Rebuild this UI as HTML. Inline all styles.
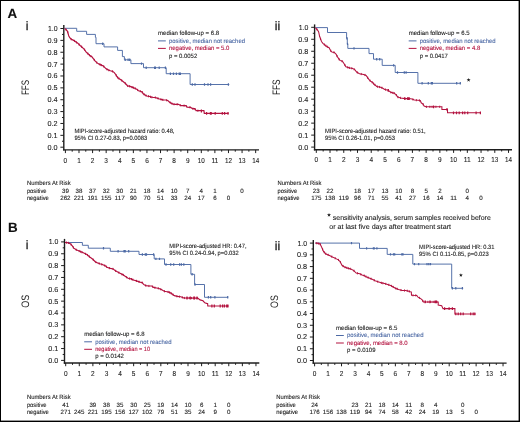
<!DOCTYPE html>
<html><head><meta charset="utf-8"><style>
html,body{margin:0;padding:0;background:#fff;}
#f{position:relative;width:520px;height:422px;overflow:hidden;background:#fff;}
svg{position:absolute;left:0;top:0;filter:blur(0.3px);}
text{font-family:"Liberation Sans",sans-serif;text-rendering:geometricPrecision;}
</style></head><body><div id="f">
<svg width="520" height="422" viewBox="0 0 520 422">
<line x1="63.8" y1="25.1" x2="63.8" y2="150.6" stroke="#1e1e1e" stroke-width="1.4"/>
<line x1="63.099999999999994" y1="149.9" x2="259.0" y2="149.9" stroke="#1e1e1e" stroke-width="1.4"/>
<text x="57.60" y="149.60" font-size="7.2" text-anchor="end" textLength="10.1" lengthAdjust="spacingAndGlyphs" fill="#222" stroke="#222" stroke-width="0.1">0.0</text>
<text x="57.60" y="137.73" font-size="7.2" text-anchor="end" textLength="10.1" lengthAdjust="spacingAndGlyphs" fill="#222" stroke="#222" stroke-width="0.1">0.1</text>
<text x="57.60" y="125.86" font-size="7.2" text-anchor="end" textLength="10.1" lengthAdjust="spacingAndGlyphs" fill="#222" stroke="#222" stroke-width="0.1">0.2</text>
<text x="57.60" y="113.99" font-size="7.2" text-anchor="end" textLength="10.1" lengthAdjust="spacingAndGlyphs" fill="#222" stroke="#222" stroke-width="0.1">0.3</text>
<text x="57.60" y="102.12" font-size="7.2" text-anchor="end" textLength="10.1" lengthAdjust="spacingAndGlyphs" fill="#222" stroke="#222" stroke-width="0.1">0.4</text>
<text x="57.60" y="90.25" font-size="7.2" text-anchor="end" textLength="10.1" lengthAdjust="spacingAndGlyphs" fill="#222" stroke="#222" stroke-width="0.1">0.5</text>
<text x="57.60" y="78.38" font-size="7.2" text-anchor="end" textLength="10.1" lengthAdjust="spacingAndGlyphs" fill="#222" stroke="#222" stroke-width="0.1">0.6</text>
<text x="57.60" y="66.51" font-size="7.2" text-anchor="end" textLength="10.1" lengthAdjust="spacingAndGlyphs" fill="#222" stroke="#222" stroke-width="0.1">0.7</text>
<text x="57.60" y="54.64" font-size="7.2" text-anchor="end" textLength="10.1" lengthAdjust="spacingAndGlyphs" fill="#222" stroke="#222" stroke-width="0.1">0.8</text>
<text x="57.60" y="42.77" font-size="7.2" text-anchor="end" textLength="10.1" lengthAdjust="spacingAndGlyphs" fill="#222" stroke="#222" stroke-width="0.1">0.9</text>
<text x="57.60" y="30.90" font-size="7.2" text-anchor="end" textLength="9.6" lengthAdjust="spacingAndGlyphs" fill="#222" stroke="#222" stroke-width="0.1">1.0</text>
<text x="65.40" y="162.50" font-size="7.2" text-anchor="middle" textLength="3.6" lengthAdjust="spacingAndGlyphs" fill="#222" stroke="#222" stroke-width="0.1">0</text>
<text x="78.99" y="162.50" font-size="7.2" text-anchor="middle" textLength="3.6" lengthAdjust="spacingAndGlyphs" fill="#222" stroke="#222" stroke-width="0.1">1</text>
<text x="92.58" y="162.50" font-size="7.2" text-anchor="middle" textLength="3.6" lengthAdjust="spacingAndGlyphs" fill="#222" stroke="#222" stroke-width="0.1">2</text>
<text x="106.17" y="162.50" font-size="7.2" text-anchor="middle" textLength="3.6" lengthAdjust="spacingAndGlyphs" fill="#222" stroke="#222" stroke-width="0.1">3</text>
<text x="119.76" y="162.50" font-size="7.2" text-anchor="middle" textLength="3.6" lengthAdjust="spacingAndGlyphs" fill="#222" stroke="#222" stroke-width="0.1">4</text>
<text x="133.35" y="162.50" font-size="7.2" text-anchor="middle" textLength="3.6" lengthAdjust="spacingAndGlyphs" fill="#222" stroke="#222" stroke-width="0.1">5</text>
<text x="146.94" y="162.50" font-size="7.2" text-anchor="middle" textLength="3.6" lengthAdjust="spacingAndGlyphs" fill="#222" stroke="#222" stroke-width="0.1">6</text>
<text x="160.53" y="162.50" font-size="7.2" text-anchor="middle" textLength="3.6" lengthAdjust="spacingAndGlyphs" fill="#222" stroke="#222" stroke-width="0.1">7</text>
<text x="174.12" y="162.50" font-size="7.2" text-anchor="middle" textLength="3.6" lengthAdjust="spacingAndGlyphs" fill="#222" stroke="#222" stroke-width="0.1">8</text>
<text x="187.71" y="162.50" font-size="7.2" text-anchor="middle" textLength="3.6" lengthAdjust="spacingAndGlyphs" fill="#222" stroke="#222" stroke-width="0.1">9</text>
<text x="201.30" y="162.50" font-size="7.2" text-anchor="middle" textLength="7.0" lengthAdjust="spacingAndGlyphs" fill="#222" stroke="#222" stroke-width="0.1">10</text>
<text x="214.89" y="162.50" font-size="7.2" text-anchor="middle" textLength="7.0" lengthAdjust="spacingAndGlyphs" fill="#222" stroke="#222" stroke-width="0.1">11</text>
<text x="228.48" y="162.50" font-size="7.2" text-anchor="middle" textLength="7.0" lengthAdjust="spacingAndGlyphs" fill="#222" stroke="#222" stroke-width="0.1">12</text>
<text x="242.07" y="162.50" font-size="7.2" text-anchor="middle" textLength="7.0" lengthAdjust="spacingAndGlyphs" fill="#222" stroke="#222" stroke-width="0.1">13</text>
<text x="255.66" y="162.50" font-size="7.2" text-anchor="middle" textLength="7.0" lengthAdjust="spacingAndGlyphs" fill="#222" stroke="#222" stroke-width="0.1">14</text>
<path d="M60.40,147.20H63.80M60.40,135.33H63.80M60.40,123.46H63.80M60.40,111.59H63.80M60.40,99.72H63.80M60.40,87.85H63.80M60.40,75.98H63.80M60.40,64.11H63.80M60.40,52.24H63.80M60.40,40.37H63.80M60.40,28.50H63.80M62.00,141.26H63.80M62.00,129.39H63.80M62.00,117.52H63.80M62.00,105.65H63.80M62.00,93.78H63.80M62.00,81.91H63.80M62.00,70.04H63.80M62.00,58.17H63.80M62.00,46.30H63.80M62.00,34.43H63.80M65.40,149.90V153.10M78.99,149.90V153.10M92.58,149.90V153.10M106.17,149.90V153.10M119.76,149.90V153.10M133.35,149.90V153.10M146.94,149.90V153.10M160.53,149.90V153.10M174.12,149.90V153.10M187.71,149.90V153.10M201.30,149.90V153.10M214.89,149.90V153.10M228.48,149.90V153.10M242.07,149.90V153.10M255.66,149.90V153.10M72.20,149.90V151.70M85.78,149.90V151.70M99.38,149.90V151.70M112.97,149.90V151.70M126.56,149.90V151.70M140.15,149.90V151.70M153.74,149.90V151.70M167.32,149.90V151.70M180.92,149.90V151.70M194.50,149.90V151.70M208.09,149.90V151.70M221.69,149.90V151.70M235.28,149.90V151.70M248.87,149.90V151.70" stroke="#1e1e1e" stroke-width="1" fill="none"/>
<line x1="314.6" y1="24.4" x2="314.6" y2="150.39999999999998" stroke="#1e1e1e" stroke-width="1.4"/>
<line x1="313.90000000000003" y1="149.7" x2="512.0" y2="149.7" stroke="#1e1e1e" stroke-width="1.4"/>
<text x="308.40" y="149.50" font-size="7.2" text-anchor="end" textLength="10.1" lengthAdjust="spacingAndGlyphs" fill="#222" stroke="#222" stroke-width="0.1">0.0</text>
<text x="308.40" y="137.52" font-size="7.2" text-anchor="end" textLength="10.1" lengthAdjust="spacingAndGlyphs" fill="#222" stroke="#222" stroke-width="0.1">0.1</text>
<text x="308.40" y="125.54" font-size="7.2" text-anchor="end" textLength="10.1" lengthAdjust="spacingAndGlyphs" fill="#222" stroke="#222" stroke-width="0.1">0.2</text>
<text x="308.40" y="113.56" font-size="7.2" text-anchor="end" textLength="10.1" lengthAdjust="spacingAndGlyphs" fill="#222" stroke="#222" stroke-width="0.1">0.3</text>
<text x="308.40" y="101.58" font-size="7.2" text-anchor="end" textLength="10.1" lengthAdjust="spacingAndGlyphs" fill="#222" stroke="#222" stroke-width="0.1">0.4</text>
<text x="308.40" y="89.60" font-size="7.2" text-anchor="end" textLength="10.1" lengthAdjust="spacingAndGlyphs" fill="#222" stroke="#222" stroke-width="0.1">0.5</text>
<text x="308.40" y="77.62" font-size="7.2" text-anchor="end" textLength="10.1" lengthAdjust="spacingAndGlyphs" fill="#222" stroke="#222" stroke-width="0.1">0.6</text>
<text x="308.40" y="65.64" font-size="7.2" text-anchor="end" textLength="10.1" lengthAdjust="spacingAndGlyphs" fill="#222" stroke="#222" stroke-width="0.1">0.7</text>
<text x="308.40" y="53.66" font-size="7.2" text-anchor="end" textLength="10.1" lengthAdjust="spacingAndGlyphs" fill="#222" stroke="#222" stroke-width="0.1">0.8</text>
<text x="308.40" y="41.68" font-size="7.2" text-anchor="end" textLength="10.1" lengthAdjust="spacingAndGlyphs" fill="#222" stroke="#222" stroke-width="0.1">0.9</text>
<text x="308.40" y="29.70" font-size="7.2" text-anchor="end" textLength="9.6" lengthAdjust="spacingAndGlyphs" fill="#222" stroke="#222" stroke-width="0.1">1.0</text>
<text x="316.30" y="162.30" font-size="7.2" text-anchor="middle" textLength="3.6" lengthAdjust="spacingAndGlyphs" fill="#222" stroke="#222" stroke-width="0.1">0</text>
<text x="330.03" y="162.30" font-size="7.2" text-anchor="middle" textLength="3.6" lengthAdjust="spacingAndGlyphs" fill="#222" stroke="#222" stroke-width="0.1">1</text>
<text x="343.76" y="162.30" font-size="7.2" text-anchor="middle" textLength="3.6" lengthAdjust="spacingAndGlyphs" fill="#222" stroke="#222" stroke-width="0.1">2</text>
<text x="357.49" y="162.30" font-size="7.2" text-anchor="middle" textLength="3.6" lengthAdjust="spacingAndGlyphs" fill="#222" stroke="#222" stroke-width="0.1">3</text>
<text x="371.22" y="162.30" font-size="7.2" text-anchor="middle" textLength="3.6" lengthAdjust="spacingAndGlyphs" fill="#222" stroke="#222" stroke-width="0.1">4</text>
<text x="384.95" y="162.30" font-size="7.2" text-anchor="middle" textLength="3.6" lengthAdjust="spacingAndGlyphs" fill="#222" stroke="#222" stroke-width="0.1">5</text>
<text x="398.68" y="162.30" font-size="7.2" text-anchor="middle" textLength="3.6" lengthAdjust="spacingAndGlyphs" fill="#222" stroke="#222" stroke-width="0.1">6</text>
<text x="412.41" y="162.30" font-size="7.2" text-anchor="middle" textLength="3.6" lengthAdjust="spacingAndGlyphs" fill="#222" stroke="#222" stroke-width="0.1">7</text>
<text x="426.14" y="162.30" font-size="7.2" text-anchor="middle" textLength="3.6" lengthAdjust="spacingAndGlyphs" fill="#222" stroke="#222" stroke-width="0.1">8</text>
<text x="439.87" y="162.30" font-size="7.2" text-anchor="middle" textLength="3.6" lengthAdjust="spacingAndGlyphs" fill="#222" stroke="#222" stroke-width="0.1">9</text>
<text x="453.60" y="162.30" font-size="7.2" text-anchor="middle" textLength="7.0" lengthAdjust="spacingAndGlyphs" fill="#222" stroke="#222" stroke-width="0.1">10</text>
<text x="467.33" y="162.30" font-size="7.2" text-anchor="middle" textLength="7.0" lengthAdjust="spacingAndGlyphs" fill="#222" stroke="#222" stroke-width="0.1">11</text>
<text x="481.06" y="162.30" font-size="7.2" text-anchor="middle" textLength="7.0" lengthAdjust="spacingAndGlyphs" fill="#222" stroke="#222" stroke-width="0.1">12</text>
<text x="494.79" y="162.30" font-size="7.2" text-anchor="middle" textLength="7.0" lengthAdjust="spacingAndGlyphs" fill="#222" stroke="#222" stroke-width="0.1">13</text>
<text x="508.52" y="162.30" font-size="7.2" text-anchor="middle" textLength="7.0" lengthAdjust="spacingAndGlyphs" fill="#222" stroke="#222" stroke-width="0.1">14</text>
<path d="M311.20,147.10H314.60M311.20,135.12H314.60M311.20,123.14H314.60M311.20,111.16H314.60M311.20,99.18H314.60M311.20,87.20H314.60M311.20,75.22H314.60M311.20,63.24H314.60M311.20,51.26H314.60M311.20,39.28H314.60M311.20,27.30H314.60M312.80,141.11H314.60M312.80,129.13H314.60M312.80,117.15H314.60M312.80,105.17H314.60M312.80,93.19H314.60M312.80,81.21H314.60M312.80,69.23H314.60M312.80,57.25H314.60M312.80,45.27H314.60M312.80,33.29H314.60M316.30,149.70V152.90M330.03,149.70V152.90M343.76,149.70V152.90M357.49,149.70V152.90M371.22,149.70V152.90M384.95,149.70V152.90M398.68,149.70V152.90M412.41,149.70V152.90M426.14,149.70V152.90M439.87,149.70V152.90M453.60,149.70V152.90M467.33,149.70V152.90M481.06,149.70V152.90M494.79,149.70V152.90M508.52,149.70V152.90M323.17,149.70V151.50M336.89,149.70V151.50M350.62,149.70V151.50M364.36,149.70V151.50M378.09,149.70V151.50M391.81,149.70V151.50M405.55,149.70V151.50M419.28,149.70V151.50M433.00,149.70V151.50M446.74,149.70V151.50M460.47,149.70V151.50M474.20,149.70V151.50M487.93,149.70V151.50M501.66,149.70V151.50" stroke="#1e1e1e" stroke-width="1" fill="none"/>
<line x1="64.5" y1="238.9" x2="64.5" y2="363.7" stroke="#1e1e1e" stroke-width="1.4"/>
<line x1="63.8" y1="363.0" x2="259.3" y2="363.0" stroke="#1e1e1e" stroke-width="1.4"/>
<text x="58.30" y="362.80" font-size="7.2" text-anchor="end" textLength="10.1" lengthAdjust="spacingAndGlyphs" fill="#222" stroke="#222" stroke-width="0.1">0.0</text>
<text x="58.30" y="350.95" font-size="7.2" text-anchor="end" textLength="10.1" lengthAdjust="spacingAndGlyphs" fill="#222" stroke="#222" stroke-width="0.1">0.1</text>
<text x="58.30" y="339.10" font-size="7.2" text-anchor="end" textLength="10.1" lengthAdjust="spacingAndGlyphs" fill="#222" stroke="#222" stroke-width="0.1">0.2</text>
<text x="58.30" y="327.25" font-size="7.2" text-anchor="end" textLength="10.1" lengthAdjust="spacingAndGlyphs" fill="#222" stroke="#222" stroke-width="0.1">0.3</text>
<text x="58.30" y="315.40" font-size="7.2" text-anchor="end" textLength="10.1" lengthAdjust="spacingAndGlyphs" fill="#222" stroke="#222" stroke-width="0.1">0.4</text>
<text x="58.30" y="303.55" font-size="7.2" text-anchor="end" textLength="10.1" lengthAdjust="spacingAndGlyphs" fill="#222" stroke="#222" stroke-width="0.1">0.5</text>
<text x="58.30" y="291.70" font-size="7.2" text-anchor="end" textLength="10.1" lengthAdjust="spacingAndGlyphs" fill="#222" stroke="#222" stroke-width="0.1">0.6</text>
<text x="58.30" y="279.85" font-size="7.2" text-anchor="end" textLength="10.1" lengthAdjust="spacingAndGlyphs" fill="#222" stroke="#222" stroke-width="0.1">0.7</text>
<text x="58.30" y="268.00" font-size="7.2" text-anchor="end" textLength="10.1" lengthAdjust="spacingAndGlyphs" fill="#222" stroke="#222" stroke-width="0.1">0.8</text>
<text x="58.30" y="256.15" font-size="7.2" text-anchor="end" textLength="10.1" lengthAdjust="spacingAndGlyphs" fill="#222" stroke="#222" stroke-width="0.1">0.9</text>
<text x="58.30" y="244.30" font-size="7.2" text-anchor="end" textLength="9.6" lengthAdjust="spacingAndGlyphs" fill="#222" stroke="#222" stroke-width="0.1">1.0</text>
<text x="65.70" y="375.60" font-size="7.2" text-anchor="middle" textLength="3.6" lengthAdjust="spacingAndGlyphs" fill="#222" stroke="#222" stroke-width="0.1">0</text>
<text x="79.29" y="375.60" font-size="7.2" text-anchor="middle" textLength="3.6" lengthAdjust="spacingAndGlyphs" fill="#222" stroke="#222" stroke-width="0.1">1</text>
<text x="92.88" y="375.60" font-size="7.2" text-anchor="middle" textLength="3.6" lengthAdjust="spacingAndGlyphs" fill="#222" stroke="#222" stroke-width="0.1">2</text>
<text x="106.47" y="375.60" font-size="7.2" text-anchor="middle" textLength="3.6" lengthAdjust="spacingAndGlyphs" fill="#222" stroke="#222" stroke-width="0.1">3</text>
<text x="120.06" y="375.60" font-size="7.2" text-anchor="middle" textLength="3.6" lengthAdjust="spacingAndGlyphs" fill="#222" stroke="#222" stroke-width="0.1">4</text>
<text x="133.65" y="375.60" font-size="7.2" text-anchor="middle" textLength="3.6" lengthAdjust="spacingAndGlyphs" fill="#222" stroke="#222" stroke-width="0.1">5</text>
<text x="147.24" y="375.60" font-size="7.2" text-anchor="middle" textLength="3.6" lengthAdjust="spacingAndGlyphs" fill="#222" stroke="#222" stroke-width="0.1">6</text>
<text x="160.83" y="375.60" font-size="7.2" text-anchor="middle" textLength="3.6" lengthAdjust="spacingAndGlyphs" fill="#222" stroke="#222" stroke-width="0.1">7</text>
<text x="174.42" y="375.60" font-size="7.2" text-anchor="middle" textLength="3.6" lengthAdjust="spacingAndGlyphs" fill="#222" stroke="#222" stroke-width="0.1">8</text>
<text x="188.01" y="375.60" font-size="7.2" text-anchor="middle" textLength="3.6" lengthAdjust="spacingAndGlyphs" fill="#222" stroke="#222" stroke-width="0.1">9</text>
<text x="201.60" y="375.60" font-size="7.2" text-anchor="middle" textLength="7.0" lengthAdjust="spacingAndGlyphs" fill="#222" stroke="#222" stroke-width="0.1">10</text>
<text x="215.19" y="375.60" font-size="7.2" text-anchor="middle" textLength="7.0" lengthAdjust="spacingAndGlyphs" fill="#222" stroke="#222" stroke-width="0.1">11</text>
<text x="228.78" y="375.60" font-size="7.2" text-anchor="middle" textLength="7.0" lengthAdjust="spacingAndGlyphs" fill="#222" stroke="#222" stroke-width="0.1">12</text>
<text x="242.37" y="375.60" font-size="7.2" text-anchor="middle" textLength="7.0" lengthAdjust="spacingAndGlyphs" fill="#222" stroke="#222" stroke-width="0.1">13</text>
<text x="255.96" y="375.60" font-size="7.2" text-anchor="middle" textLength="7.0" lengthAdjust="spacingAndGlyphs" fill="#222" stroke="#222" stroke-width="0.1">14</text>
<path d="M61.10,360.40H64.50M61.10,348.55H64.50M61.10,336.70H64.50M61.10,324.85H64.50M61.10,313.00H64.50M61.10,301.15H64.50M61.10,289.30H64.50M61.10,277.45H64.50M61.10,265.60H64.50M61.10,253.75H64.50M61.10,241.90H64.50M62.70,354.47H64.50M62.70,342.62H64.50M62.70,330.77H64.50M62.70,318.92H64.50M62.70,307.07H64.50M62.70,295.22H64.50M62.70,283.38H64.50M62.70,271.52H64.50M62.70,259.67H64.50M62.70,247.82H64.50M65.70,363.00V366.20M79.29,363.00V366.20M92.88,363.00V366.20M106.47,363.00V366.20M120.06,363.00V366.20M133.65,363.00V366.20M147.24,363.00V366.20M160.83,363.00V366.20M174.42,363.00V366.20M188.01,363.00V366.20M201.60,363.00V366.20M215.19,363.00V366.20M228.78,363.00V366.20M242.37,363.00V366.20M255.96,363.00V366.20M72.50,363.00V364.80M86.09,363.00V364.80M99.68,363.00V364.80M113.27,363.00V364.80M126.86,363.00V364.80M140.44,363.00V364.80M154.03,363.00V364.80M167.62,363.00V364.80M181.22,363.00V364.80M194.81,363.00V364.80M208.39,363.00V364.80M221.99,363.00V364.80M235.57,363.00V364.80M249.17,363.00V364.80" stroke="#1e1e1e" stroke-width="1" fill="none"/>
<line x1="313.3" y1="240.0" x2="313.3" y2="363.8" stroke="#1e1e1e" stroke-width="1.4"/>
<line x1="312.6" y1="363.1" x2="506.6" y2="363.1" stroke="#1e1e1e" stroke-width="1.4"/>
<text x="307.10" y="362.90" font-size="7.2" text-anchor="end" textLength="10.1" lengthAdjust="spacingAndGlyphs" fill="#222" stroke="#222" stroke-width="0.1">0.0</text>
<text x="307.10" y="351.16" font-size="7.2" text-anchor="end" textLength="10.1" lengthAdjust="spacingAndGlyphs" fill="#222" stroke="#222" stroke-width="0.1">0.1</text>
<text x="307.10" y="339.42" font-size="7.2" text-anchor="end" textLength="10.1" lengthAdjust="spacingAndGlyphs" fill="#222" stroke="#222" stroke-width="0.1">0.2</text>
<text x="307.10" y="327.68" font-size="7.2" text-anchor="end" textLength="10.1" lengthAdjust="spacingAndGlyphs" fill="#222" stroke="#222" stroke-width="0.1">0.3</text>
<text x="307.10" y="315.94" font-size="7.2" text-anchor="end" textLength="10.1" lengthAdjust="spacingAndGlyphs" fill="#222" stroke="#222" stroke-width="0.1">0.4</text>
<text x="307.10" y="304.20" font-size="7.2" text-anchor="end" textLength="10.1" lengthAdjust="spacingAndGlyphs" fill="#222" stroke="#222" stroke-width="0.1">0.5</text>
<text x="307.10" y="292.46" font-size="7.2" text-anchor="end" textLength="10.1" lengthAdjust="spacingAndGlyphs" fill="#222" stroke="#222" stroke-width="0.1">0.6</text>
<text x="307.10" y="280.72" font-size="7.2" text-anchor="end" textLength="10.1" lengthAdjust="spacingAndGlyphs" fill="#222" stroke="#222" stroke-width="0.1">0.7</text>
<text x="307.10" y="268.98" font-size="7.2" text-anchor="end" textLength="10.1" lengthAdjust="spacingAndGlyphs" fill="#222" stroke="#222" stroke-width="0.1">0.8</text>
<text x="307.10" y="257.24" font-size="7.2" text-anchor="end" textLength="10.1" lengthAdjust="spacingAndGlyphs" fill="#222" stroke="#222" stroke-width="0.1">0.9</text>
<text x="307.10" y="245.50" font-size="7.2" text-anchor="end" textLength="9.6" lengthAdjust="spacingAndGlyphs" fill="#222" stroke="#222" stroke-width="0.1">1.0</text>
<text x="314.60" y="375.70" font-size="7.2" text-anchor="middle" textLength="3.6" lengthAdjust="spacingAndGlyphs" fill="#222" stroke="#222" stroke-width="0.1">0</text>
<text x="328.06" y="375.70" font-size="7.2" text-anchor="middle" textLength="3.6" lengthAdjust="spacingAndGlyphs" fill="#222" stroke="#222" stroke-width="0.1">1</text>
<text x="341.52" y="375.70" font-size="7.2" text-anchor="middle" textLength="3.6" lengthAdjust="spacingAndGlyphs" fill="#222" stroke="#222" stroke-width="0.1">2</text>
<text x="354.98" y="375.70" font-size="7.2" text-anchor="middle" textLength="3.6" lengthAdjust="spacingAndGlyphs" fill="#222" stroke="#222" stroke-width="0.1">3</text>
<text x="368.44" y="375.70" font-size="7.2" text-anchor="middle" textLength="3.6" lengthAdjust="spacingAndGlyphs" fill="#222" stroke="#222" stroke-width="0.1">4</text>
<text x="381.90" y="375.70" font-size="7.2" text-anchor="middle" textLength="3.6" lengthAdjust="spacingAndGlyphs" fill="#222" stroke="#222" stroke-width="0.1">5</text>
<text x="395.36" y="375.70" font-size="7.2" text-anchor="middle" textLength="3.6" lengthAdjust="spacingAndGlyphs" fill="#222" stroke="#222" stroke-width="0.1">6</text>
<text x="408.82" y="375.70" font-size="7.2" text-anchor="middle" textLength="3.6" lengthAdjust="spacingAndGlyphs" fill="#222" stroke="#222" stroke-width="0.1">7</text>
<text x="422.28" y="375.70" font-size="7.2" text-anchor="middle" textLength="3.6" lengthAdjust="spacingAndGlyphs" fill="#222" stroke="#222" stroke-width="0.1">8</text>
<text x="435.74" y="375.70" font-size="7.2" text-anchor="middle" textLength="3.6" lengthAdjust="spacingAndGlyphs" fill="#222" stroke="#222" stroke-width="0.1">9</text>
<text x="449.20" y="375.70" font-size="7.2" text-anchor="middle" textLength="7.0" lengthAdjust="spacingAndGlyphs" fill="#222" stroke="#222" stroke-width="0.1">10</text>
<text x="462.66" y="375.70" font-size="7.2" text-anchor="middle" textLength="7.0" lengthAdjust="spacingAndGlyphs" fill="#222" stroke="#222" stroke-width="0.1">11</text>
<text x="476.12" y="375.70" font-size="7.2" text-anchor="middle" textLength="7.0" lengthAdjust="spacingAndGlyphs" fill="#222" stroke="#222" stroke-width="0.1">12</text>
<text x="489.58" y="375.70" font-size="7.2" text-anchor="middle" textLength="7.0" lengthAdjust="spacingAndGlyphs" fill="#222" stroke="#222" stroke-width="0.1">13</text>
<text x="503.04" y="375.70" font-size="7.2" text-anchor="middle" textLength="7.0" lengthAdjust="spacingAndGlyphs" fill="#222" stroke="#222" stroke-width="0.1">14</text>
<path d="M309.90,360.50H313.30M309.90,348.76H313.30M309.90,337.02H313.30M309.90,325.28H313.30M309.90,313.54H313.30M309.90,301.80H313.30M309.90,290.06H313.30M309.90,278.32H313.30M309.90,266.58H313.30M309.90,254.84H313.30M309.90,243.10H313.30M311.50,354.63H313.30M311.50,342.89H313.30M311.50,331.15H313.30M311.50,319.41H313.30M311.50,307.67H313.30M311.50,295.93H313.30M311.50,284.19H313.30M311.50,272.45H313.30M311.50,260.71H313.30M311.50,248.97H313.30M314.60,363.10V366.30M328.06,363.10V366.30M341.52,363.10V366.30M354.98,363.10V366.30M368.44,363.10V366.30M381.90,363.10V366.30M395.36,363.10V366.30M408.82,363.10V366.30M422.28,363.10V366.30M435.74,363.10V366.30M449.20,363.10V366.30M462.66,363.10V366.30M476.12,363.10V366.30M489.58,363.10V366.30M503.04,363.10V366.30M321.33,363.10V364.90M334.79,363.10V364.90M348.25,363.10V364.90M361.71,363.10V364.90M375.17,363.10V364.90M388.63,363.10V364.90M402.09,363.10V364.90M415.55,363.10V364.90M429.01,363.10V364.90M442.47,363.10V364.90M455.93,363.10V364.90M469.39,363.10V364.90M482.85,363.10V364.90M496.31,363.10V364.90" stroke="#1e1e1e" stroke-width="1" fill="none"/>
<text x="7.60" y="18.30" font-size="13.4" font-weight="bold" fill="#111" stroke="#111" stroke-width="0.1">A</text>
<text x="7.90" y="231.70" font-size="13.4" font-weight="bold" fill="#111" stroke="#111" stroke-width="0.1">B</text>
<text x="25.80" y="29.90" font-size="12.2" fill="#222" stroke="#222" stroke-width="0.3">i</text>
<text x="274.80" y="29.90" font-size="12.2" textLength="5.4" lengthAdjust="spacingAndGlyphs" fill="#222" stroke="#222" stroke-width="0.3">ii</text>
<text x="25.80" y="249.30" font-size="12.2" fill="#222" stroke="#222" stroke-width="0.3">i</text>
<text x="274.80" y="249.90" font-size="12.2" textLength="5.4" lengthAdjust="spacingAndGlyphs" fill="#222" stroke="#222" stroke-width="0.3">ii</text>
<text x="0" y="0" font-size="10.8" text-anchor="middle" fill="#222" textLength="15.1" lengthAdjust="spacingAndGlyphs" transform="translate(25.00,87.50) rotate(-90)" dy="3.6">FFS</text>
<text x="0" y="0" font-size="10.8" text-anchor="middle" fill="#222" textLength="15.6" lengthAdjust="spacingAndGlyphs" transform="translate(275.90,87.30) rotate(-90)" dy="3.6">FFS</text>
<text x="0" y="0" font-size="10.8" text-anchor="middle" fill="#222" textLength="13.0" lengthAdjust="spacingAndGlyphs" transform="translate(25.30,301.20) rotate(-90)" dy="3.6">OS</text>
<text x="0" y="0" font-size="10.8" text-anchor="middle" fill="#222" textLength="12.8" lengthAdjust="spacingAndGlyphs" transform="translate(274.20,301.60) rotate(-90)" dy="3.6">OS</text>
<text x="158.00" y="35.20" font-size="6.2" textLength="61.2" lengthAdjust="spacingAndGlyphs" fill="#222" stroke="#222" stroke-width="0.1">median follow-up = 6.8</text>
<line x1="158.0" y1="40.90" x2="165.80" y2="40.90" stroke="#4d6aa5" stroke-width="1"/>
<line x1="158.0" y1="48.40" x2="165.80" y2="48.40" stroke="#b3123f" stroke-width="1"/>
<text x="169.00" y="42.65" font-size="6.2" textLength="76.0" lengthAdjust="spacingAndGlyphs" fill="#4d6aa5" stroke="#4d6aa5" stroke-width="0.1">positive, median not reached</text>
<text x="169.00" y="50.10" font-size="6.2" textLength="60.3" lengthAdjust="spacingAndGlyphs" fill="#b3123f" stroke="#b3123f" stroke-width="0.1">negative, median = 5.0</text>
<text x="169.00" y="57.55" font-size="6.2" textLength="28.2" lengthAdjust="spacingAndGlyphs" fill="#222" stroke="#222" stroke-width="0.1">p = 0.0052</text>
<text x="408.70" y="35.20" font-size="6.2" textLength="60.9" lengthAdjust="spacingAndGlyphs" fill="#222" stroke="#222" stroke-width="0.1">median follow-up = 6.5</text>
<line x1="408.7" y1="40.90" x2="416.50" y2="40.90" stroke="#4d6aa5" stroke-width="1"/>
<line x1="408.7" y1="48.40" x2="416.50" y2="48.40" stroke="#b3123f" stroke-width="1"/>
<text x="419.70" y="42.65" font-size="6.2" textLength="76.0" lengthAdjust="spacingAndGlyphs" fill="#4d6aa5" stroke="#4d6aa5" stroke-width="0.1">positive, median not reached</text>
<text x="419.70" y="50.10" font-size="6.2" textLength="60.6" lengthAdjust="spacingAndGlyphs" fill="#b3123f" stroke="#b3123f" stroke-width="0.1">negative, median = 4.8</text>
<text x="419.70" y="57.55" font-size="6.2" textLength="28.2" lengthAdjust="spacingAndGlyphs" fill="#222" stroke="#222" stroke-width="0.1">p = 0.0417</text>
<text x="84.20" y="336.10" font-size="6.2" textLength="60.4" lengthAdjust="spacingAndGlyphs" fill="#222" stroke="#222" stroke-width="0.1">median follow-up = 6.8</text>
<line x1="84.2" y1="341.80" x2="92.00" y2="341.80" stroke="#4d6aa5" stroke-width="1"/>
<line x1="84.2" y1="349.30" x2="92.00" y2="349.30" stroke="#b3123f" stroke-width="1"/>
<text x="95.20" y="343.55" font-size="6.2" textLength="76.4" lengthAdjust="spacingAndGlyphs" fill="#4d6aa5" stroke="#4d6aa5" stroke-width="0.1">positive, median not reached</text>
<text x="95.20" y="351.00" font-size="6.2" textLength="54.8" lengthAdjust="spacingAndGlyphs" fill="#b3123f" stroke="#b3123f" stroke-width="0.1">negative, median = 10</text>
<text x="95.20" y="358.45" font-size="6.2" textLength="28.8" lengthAdjust="spacingAndGlyphs" fill="#222" stroke="#222" stroke-width="0.1">p = 0.0142</text>
<text x="336.00" y="329.80" font-size="6.2" textLength="61.3" lengthAdjust="spacingAndGlyphs" fill="#222" stroke="#222" stroke-width="0.1">median follow-up = 6.5</text>
<line x1="336.0" y1="335.50" x2="343.80" y2="335.50" stroke="#4d6aa5" stroke-width="1"/>
<line x1="336.0" y1="343.00" x2="343.80" y2="343.00" stroke="#b3123f" stroke-width="1"/>
<text x="347.00" y="337.25" font-size="6.2" textLength="76.5" lengthAdjust="spacingAndGlyphs" fill="#4d6aa5" stroke="#4d6aa5" stroke-width="0.1">positive, median not reached</text>
<text x="347.00" y="344.70" font-size="6.2" textLength="60.6" lengthAdjust="spacingAndGlyphs" fill="#b3123f" stroke="#b3123f" stroke-width="0.1">negative, median = 8.0</text>
<text x="347.00" y="352.15" font-size="6.2" textLength="28.5" lengthAdjust="spacingAndGlyphs" fill="#222" stroke="#222" stroke-width="0.1">p = 0.0109</text>
<text x="74.40" y="133.00" font-size="6.2" textLength="100.1" lengthAdjust="spacingAndGlyphs" fill="#222" stroke="#222" stroke-width="0.1">MIPI-score-adjusted hazard ratio: 0.48,</text>
<text x="74.40" y="140.10" font-size="6.2" textLength="72.9" lengthAdjust="spacingAndGlyphs" fill="#222" stroke="#222" stroke-width="0.1">95% CI 0.27-0.83, p=0.0083</text>
<text x="325.00" y="132.80" font-size="6.2" textLength="100.6" lengthAdjust="spacingAndGlyphs" fill="#222" stroke="#222" stroke-width="0.1">MIPI-score-adjusted hazard ratio: 0.51,</text>
<text x="325.00" y="139.90" font-size="6.2" textLength="70.0" lengthAdjust="spacingAndGlyphs" fill="#222" stroke="#222" stroke-width="0.1">95% CI 0.26-1.01, p=0.053</text>
<text x="169.20" y="247.90" font-size="6.2" textLength="77.3" lengthAdjust="spacingAndGlyphs" fill="#222" stroke="#222" stroke-width="0.1">MIPI-score-adjusted HR: 0.47,</text>
<text x="169.20" y="255.00" font-size="6.2" textLength="69.6" lengthAdjust="spacingAndGlyphs" fill="#222" stroke="#222" stroke-width="0.1">95% CI 0.24-0.94, p=0.032</text>
<text x="419.10" y="248.80" font-size="6.2" textLength="75.4" lengthAdjust="spacingAndGlyphs" fill="#222" stroke="#222" stroke-width="0.1">MIPI-score-adjusted HR: 0.31</text>
<text x="419.10" y="256.20" font-size="6.2" textLength="69.7" lengthAdjust="spacingAndGlyphs" fill="#222" stroke="#222" stroke-width="0.1">95% CI 0.11-0.85, p=0.023</text>
<polygon points="329.00,212.90 329.50,214.31 331.00,214.35 329.81,215.26 330.23,216.70 329.00,215.85 327.77,216.70 328.19,215.26 327.00,214.35 328.50,214.31" fill="#1a1a1a"/>
<text x="332.80" y="220.10" font-size="7.0" textLength="158.0" lengthAdjust="spacingAndGlyphs" fill="#222" stroke="#222" stroke-width="0.1">sensitivity analysis, serum samples received before</text>
<text x="329.20" y="228.60" font-size="7.0" textLength="121.8" lengthAdjust="spacingAndGlyphs" fill="#222" stroke="#222" stroke-width="0.1">or at last five days after treatment start</text>
<polygon points="468.60,77.90 469.10,79.31 470.60,79.35 469.41,80.26 469.83,81.70 468.60,80.85 467.37,81.70 467.79,80.26 466.60,79.35 468.10,79.31" fill="#1a1a1a"/>
<polygon points="460.90,273.20 461.40,274.51 462.80,274.58 461.71,275.46 462.08,276.82 460.90,276.05 459.72,276.82 460.09,275.46 459.00,274.58 460.40,274.51" fill="#1a1a1a"/>
<text x="26.90" y="185.00" font-size="6.2" textLength="43.8" lengthAdjust="spacingAndGlyphs" fill="#222" stroke="#222" stroke-width="0.1">Numbers At Risk</text>
<text x="26.90" y="193.20" font-size="6.2" textLength="19.6" lengthAdjust="spacingAndGlyphs" fill="#222" stroke="#222" stroke-width="0.1">positive</text>
<text x="26.90" y="200.20" font-size="6.2" textLength="21.9" lengthAdjust="spacingAndGlyphs" fill="#222" stroke="#222" stroke-width="0.1">negative</text>
<text x="65.40" y="193.20" font-size="6.2" text-anchor="middle" textLength="6.9" lengthAdjust="spacingAndGlyphs" fill="#222" stroke="#222" stroke-width="0.1">39</text>
<text x="78.99" y="193.20" font-size="6.2" text-anchor="middle" textLength="6.9" lengthAdjust="spacingAndGlyphs" fill="#222" stroke="#222" stroke-width="0.1">38</text>
<text x="92.58" y="193.20" font-size="6.2" text-anchor="middle" textLength="6.9" lengthAdjust="spacingAndGlyphs" fill="#222" stroke="#222" stroke-width="0.1">37</text>
<text x="106.17" y="193.20" font-size="6.2" text-anchor="middle" textLength="6.9" lengthAdjust="spacingAndGlyphs" fill="#222" stroke="#222" stroke-width="0.1">32</text>
<text x="119.76" y="193.20" font-size="6.2" text-anchor="middle" textLength="6.9" lengthAdjust="spacingAndGlyphs" fill="#222" stroke="#222" stroke-width="0.1">30</text>
<text x="133.35" y="193.20" font-size="6.2" text-anchor="middle" textLength="6.9" lengthAdjust="spacingAndGlyphs" fill="#222" stroke="#222" stroke-width="0.1">21</text>
<text x="146.94" y="193.20" font-size="6.2" text-anchor="middle" textLength="6.9" lengthAdjust="spacingAndGlyphs" fill="#222" stroke="#222" stroke-width="0.1">18</text>
<text x="160.53" y="193.20" font-size="6.2" text-anchor="middle" textLength="6.9" lengthAdjust="spacingAndGlyphs" fill="#222" stroke="#222" stroke-width="0.1">14</text>
<text x="174.12" y="193.20" font-size="6.2" text-anchor="middle" textLength="6.9" lengthAdjust="spacingAndGlyphs" fill="#222" stroke="#222" stroke-width="0.1">10</text>
<text x="187.71" y="193.20" font-size="6.2" text-anchor="middle" textLength="3.45" lengthAdjust="spacingAndGlyphs" fill="#222" stroke="#222" stroke-width="0.1">7</text>
<text x="201.30" y="193.20" font-size="6.2" text-anchor="middle" textLength="3.45" lengthAdjust="spacingAndGlyphs" fill="#222" stroke="#222" stroke-width="0.1">4</text>
<text x="214.89" y="193.20" font-size="6.2" text-anchor="middle" textLength="3.45" lengthAdjust="spacingAndGlyphs" fill="#222" stroke="#222" stroke-width="0.1">1</text>
<text x="242.07" y="193.20" font-size="6.2" text-anchor="middle" textLength="3.45" lengthAdjust="spacingAndGlyphs" fill="#222" stroke="#222" stroke-width="0.1">0</text>
<text x="65.40" y="200.20" font-size="6.2" text-anchor="middle" textLength="10.350000000000001" lengthAdjust="spacingAndGlyphs" fill="#222" stroke="#222" stroke-width="0.1">262</text>
<text x="78.99" y="200.20" font-size="6.2" text-anchor="middle" textLength="10.350000000000001" lengthAdjust="spacingAndGlyphs" fill="#222" stroke="#222" stroke-width="0.1">221</text>
<text x="92.58" y="200.20" font-size="6.2" text-anchor="middle" textLength="10.350000000000001" lengthAdjust="spacingAndGlyphs" fill="#222" stroke="#222" stroke-width="0.1">191</text>
<text x="106.17" y="200.20" font-size="6.2" text-anchor="middle" textLength="10.350000000000001" lengthAdjust="spacingAndGlyphs" fill="#222" stroke="#222" stroke-width="0.1">155</text>
<text x="119.76" y="200.20" font-size="6.2" text-anchor="middle" textLength="10.350000000000001" lengthAdjust="spacingAndGlyphs" fill="#222" stroke="#222" stroke-width="0.1">117</text>
<text x="133.35" y="200.20" font-size="6.2" text-anchor="middle" textLength="6.9" lengthAdjust="spacingAndGlyphs" fill="#222" stroke="#222" stroke-width="0.1">90</text>
<text x="146.94" y="200.20" font-size="6.2" text-anchor="middle" textLength="6.9" lengthAdjust="spacingAndGlyphs" fill="#222" stroke="#222" stroke-width="0.1">70</text>
<text x="160.53" y="200.20" font-size="6.2" text-anchor="middle" textLength="6.9" lengthAdjust="spacingAndGlyphs" fill="#222" stroke="#222" stroke-width="0.1">51</text>
<text x="174.12" y="200.20" font-size="6.2" text-anchor="middle" textLength="6.9" lengthAdjust="spacingAndGlyphs" fill="#222" stroke="#222" stroke-width="0.1">33</text>
<text x="187.71" y="200.20" font-size="6.2" text-anchor="middle" textLength="6.9" lengthAdjust="spacingAndGlyphs" fill="#222" stroke="#222" stroke-width="0.1">24</text>
<text x="201.30" y="200.20" font-size="6.2" text-anchor="middle" textLength="6.9" lengthAdjust="spacingAndGlyphs" fill="#222" stroke="#222" stroke-width="0.1">17</text>
<text x="214.89" y="200.20" font-size="6.2" text-anchor="middle" textLength="3.45" lengthAdjust="spacingAndGlyphs" fill="#222" stroke="#222" stroke-width="0.1">6</text>
<text x="228.48" y="200.20" font-size="6.2" text-anchor="middle" textLength="3.45" lengthAdjust="spacingAndGlyphs" fill="#222" stroke="#222" stroke-width="0.1">0</text>
<text x="277.60" y="185.00" font-size="6.2" textLength="43.8" lengthAdjust="spacingAndGlyphs" fill="#222" stroke="#222" stroke-width="0.1">Numbers At Risk</text>
<text x="277.60" y="193.20" font-size="6.2" textLength="19.6" lengthAdjust="spacingAndGlyphs" fill="#222" stroke="#222" stroke-width="0.1">positive</text>
<text x="277.60" y="200.20" font-size="6.2" textLength="21.9" lengthAdjust="spacingAndGlyphs" fill="#222" stroke="#222" stroke-width="0.1">negative</text>
<text x="316.30" y="193.20" font-size="6.2" text-anchor="middle" textLength="6.9" lengthAdjust="spacingAndGlyphs" fill="#222" stroke="#222" stroke-width="0.1">23</text>
<text x="330.03" y="193.20" font-size="6.2" text-anchor="middle" textLength="6.9" lengthAdjust="spacingAndGlyphs" fill="#222" stroke="#222" stroke-width="0.1">22</text>
<text x="357.49" y="193.20" font-size="6.2" text-anchor="middle" textLength="6.9" lengthAdjust="spacingAndGlyphs" fill="#222" stroke="#222" stroke-width="0.1">18</text>
<text x="371.22" y="193.20" font-size="6.2" text-anchor="middle" textLength="6.9" lengthAdjust="spacingAndGlyphs" fill="#222" stroke="#222" stroke-width="0.1">17</text>
<text x="384.95" y="193.20" font-size="6.2" text-anchor="middle" textLength="6.9" lengthAdjust="spacingAndGlyphs" fill="#222" stroke="#222" stroke-width="0.1">13</text>
<text x="398.68" y="193.20" font-size="6.2" text-anchor="middle" textLength="6.9" lengthAdjust="spacingAndGlyphs" fill="#222" stroke="#222" stroke-width="0.1">10</text>
<text x="412.41" y="193.20" font-size="6.2" text-anchor="middle" textLength="3.45" lengthAdjust="spacingAndGlyphs" fill="#222" stroke="#222" stroke-width="0.1">8</text>
<text x="426.14" y="193.20" font-size="6.2" text-anchor="middle" textLength="3.45" lengthAdjust="spacingAndGlyphs" fill="#222" stroke="#222" stroke-width="0.1">5</text>
<text x="439.87" y="193.20" font-size="6.2" text-anchor="middle" textLength="3.45" lengthAdjust="spacingAndGlyphs" fill="#222" stroke="#222" stroke-width="0.1">2</text>
<text x="467.33" y="193.20" font-size="6.2" text-anchor="middle" textLength="3.45" lengthAdjust="spacingAndGlyphs" fill="#222" stroke="#222" stroke-width="0.1">0</text>
<text x="316.30" y="200.20" font-size="6.2" text-anchor="middle" textLength="10.350000000000001" lengthAdjust="spacingAndGlyphs" fill="#222" stroke="#222" stroke-width="0.1">175</text>
<text x="330.03" y="200.20" font-size="6.2" text-anchor="middle" textLength="10.350000000000001" lengthAdjust="spacingAndGlyphs" fill="#222" stroke="#222" stroke-width="0.1">138</text>
<text x="343.76" y="200.20" font-size="6.2" text-anchor="middle" textLength="10.350000000000001" lengthAdjust="spacingAndGlyphs" fill="#222" stroke="#222" stroke-width="0.1">119</text>
<text x="357.49" y="200.20" font-size="6.2" text-anchor="middle" textLength="6.9" lengthAdjust="spacingAndGlyphs" fill="#222" stroke="#222" stroke-width="0.1">96</text>
<text x="371.22" y="200.20" font-size="6.2" text-anchor="middle" textLength="6.9" lengthAdjust="spacingAndGlyphs" fill="#222" stroke="#222" stroke-width="0.1">71</text>
<text x="384.95" y="200.20" font-size="6.2" text-anchor="middle" textLength="6.9" lengthAdjust="spacingAndGlyphs" fill="#222" stroke="#222" stroke-width="0.1">55</text>
<text x="398.68" y="200.20" font-size="6.2" text-anchor="middle" textLength="6.9" lengthAdjust="spacingAndGlyphs" fill="#222" stroke="#222" stroke-width="0.1">41</text>
<text x="412.41" y="200.20" font-size="6.2" text-anchor="middle" textLength="6.9" lengthAdjust="spacingAndGlyphs" fill="#222" stroke="#222" stroke-width="0.1">27</text>
<text x="426.14" y="200.20" font-size="6.2" text-anchor="middle" textLength="6.9" lengthAdjust="spacingAndGlyphs" fill="#222" stroke="#222" stroke-width="0.1">16</text>
<text x="439.87" y="200.20" font-size="6.2" text-anchor="middle" textLength="6.9" lengthAdjust="spacingAndGlyphs" fill="#222" stroke="#222" stroke-width="0.1">14</text>
<text x="453.60" y="200.20" font-size="6.2" text-anchor="middle" textLength="6.9" lengthAdjust="spacingAndGlyphs" fill="#222" stroke="#222" stroke-width="0.1">11</text>
<text x="467.33" y="200.20" font-size="6.2" text-anchor="middle" textLength="3.45" lengthAdjust="spacingAndGlyphs" fill="#222" stroke="#222" stroke-width="0.1">4</text>
<text x="481.06" y="200.20" font-size="6.2" text-anchor="middle" textLength="3.45" lengthAdjust="spacingAndGlyphs" fill="#222" stroke="#222" stroke-width="0.1">0</text>
<text x="26.90" y="398.50" font-size="6.2" textLength="43.8" lengthAdjust="spacingAndGlyphs" fill="#222" stroke="#222" stroke-width="0.1">Numbers At Risk</text>
<text x="26.90" y="406.70" font-size="6.2" textLength="19.6" lengthAdjust="spacingAndGlyphs" fill="#222" stroke="#222" stroke-width="0.1">positive</text>
<text x="26.90" y="413.70" font-size="6.2" textLength="21.9" lengthAdjust="spacingAndGlyphs" fill="#222" stroke="#222" stroke-width="0.1">negative</text>
<text x="65.70" y="406.70" font-size="6.2" text-anchor="middle" textLength="6.9" lengthAdjust="spacingAndGlyphs" fill="#222" stroke="#222" stroke-width="0.1">41</text>
<text x="92.88" y="406.70" font-size="6.2" text-anchor="middle" textLength="6.9" lengthAdjust="spacingAndGlyphs" fill="#222" stroke="#222" stroke-width="0.1">39</text>
<text x="106.47" y="406.70" font-size="6.2" text-anchor="middle" textLength="6.9" lengthAdjust="spacingAndGlyphs" fill="#222" stroke="#222" stroke-width="0.1">38</text>
<text x="120.06" y="406.70" font-size="6.2" text-anchor="middle" textLength="6.9" lengthAdjust="spacingAndGlyphs" fill="#222" stroke="#222" stroke-width="0.1">35</text>
<text x="133.65" y="406.70" font-size="6.2" text-anchor="middle" textLength="6.9" lengthAdjust="spacingAndGlyphs" fill="#222" stroke="#222" stroke-width="0.1">30</text>
<text x="147.24" y="406.70" font-size="6.2" text-anchor="middle" textLength="6.9" lengthAdjust="spacingAndGlyphs" fill="#222" stroke="#222" stroke-width="0.1">25</text>
<text x="160.83" y="406.70" font-size="6.2" text-anchor="middle" textLength="6.9" lengthAdjust="spacingAndGlyphs" fill="#222" stroke="#222" stroke-width="0.1">19</text>
<text x="174.42" y="406.70" font-size="6.2" text-anchor="middle" textLength="6.9" lengthAdjust="spacingAndGlyphs" fill="#222" stroke="#222" stroke-width="0.1">14</text>
<text x="188.01" y="406.70" font-size="6.2" text-anchor="middle" textLength="6.9" lengthAdjust="spacingAndGlyphs" fill="#222" stroke="#222" stroke-width="0.1">10</text>
<text x="201.60" y="406.70" font-size="6.2" text-anchor="middle" textLength="3.45" lengthAdjust="spacingAndGlyphs" fill="#222" stroke="#222" stroke-width="0.1">6</text>
<text x="215.19" y="406.70" font-size="6.2" text-anchor="middle" textLength="3.45" lengthAdjust="spacingAndGlyphs" fill="#222" stroke="#222" stroke-width="0.1">1</text>
<text x="228.78" y="406.70" font-size="6.2" text-anchor="middle" textLength="3.45" lengthAdjust="spacingAndGlyphs" fill="#222" stroke="#222" stroke-width="0.1">0</text>
<text x="65.70" y="413.70" font-size="6.2" text-anchor="middle" textLength="10.350000000000001" lengthAdjust="spacingAndGlyphs" fill="#222" stroke="#222" stroke-width="0.1">271</text>
<text x="79.29" y="413.70" font-size="6.2" text-anchor="middle" textLength="10.350000000000001" lengthAdjust="spacingAndGlyphs" fill="#222" stroke="#222" stroke-width="0.1">245</text>
<text x="92.88" y="413.70" font-size="6.2" text-anchor="middle" textLength="10.350000000000001" lengthAdjust="spacingAndGlyphs" fill="#222" stroke="#222" stroke-width="0.1">221</text>
<text x="106.47" y="413.70" font-size="6.2" text-anchor="middle" textLength="10.350000000000001" lengthAdjust="spacingAndGlyphs" fill="#222" stroke="#222" stroke-width="0.1">195</text>
<text x="120.06" y="413.70" font-size="6.2" text-anchor="middle" textLength="10.350000000000001" lengthAdjust="spacingAndGlyphs" fill="#222" stroke="#222" stroke-width="0.1">156</text>
<text x="133.65" y="413.70" font-size="6.2" text-anchor="middle" textLength="10.350000000000001" lengthAdjust="spacingAndGlyphs" fill="#222" stroke="#222" stroke-width="0.1">127</text>
<text x="147.24" y="413.70" font-size="6.2" text-anchor="middle" textLength="10.350000000000001" lengthAdjust="spacingAndGlyphs" fill="#222" stroke="#222" stroke-width="0.1">102</text>
<text x="160.83" y="413.70" font-size="6.2" text-anchor="middle" textLength="6.9" lengthAdjust="spacingAndGlyphs" fill="#222" stroke="#222" stroke-width="0.1">79</text>
<text x="174.42" y="413.70" font-size="6.2" text-anchor="middle" textLength="6.9" lengthAdjust="spacingAndGlyphs" fill="#222" stroke="#222" stroke-width="0.1">51</text>
<text x="188.01" y="413.70" font-size="6.2" text-anchor="middle" textLength="6.9" lengthAdjust="spacingAndGlyphs" fill="#222" stroke="#222" stroke-width="0.1">35</text>
<text x="201.60" y="413.70" font-size="6.2" text-anchor="middle" textLength="6.9" lengthAdjust="spacingAndGlyphs" fill="#222" stroke="#222" stroke-width="0.1">24</text>
<text x="215.19" y="413.70" font-size="6.2" text-anchor="middle" textLength="3.45" lengthAdjust="spacingAndGlyphs" fill="#222" stroke="#222" stroke-width="0.1">9</text>
<text x="228.78" y="413.70" font-size="6.2" text-anchor="middle" textLength="3.45" lengthAdjust="spacingAndGlyphs" fill="#222" stroke="#222" stroke-width="0.1">0</text>
<text x="276.20" y="398.50" font-size="6.2" textLength="43.8" lengthAdjust="spacingAndGlyphs" fill="#222" stroke="#222" stroke-width="0.1">Numbers At Risk</text>
<text x="276.20" y="406.70" font-size="6.2" textLength="19.6" lengthAdjust="spacingAndGlyphs" fill="#222" stroke="#222" stroke-width="0.1">positive</text>
<text x="276.20" y="413.70" font-size="6.2" textLength="21.9" lengthAdjust="spacingAndGlyphs" fill="#222" stroke="#222" stroke-width="0.1">negative</text>
<text x="314.60" y="406.70" font-size="6.2" text-anchor="middle" textLength="6.9" lengthAdjust="spacingAndGlyphs" fill="#222" stroke="#222" stroke-width="0.1">24</text>
<text x="354.98" y="406.70" font-size="6.2" text-anchor="middle" textLength="6.9" lengthAdjust="spacingAndGlyphs" fill="#222" stroke="#222" stroke-width="0.1">23</text>
<text x="368.44" y="406.70" font-size="6.2" text-anchor="middle" textLength="6.9" lengthAdjust="spacingAndGlyphs" fill="#222" stroke="#222" stroke-width="0.1">21</text>
<text x="381.90" y="406.70" font-size="6.2" text-anchor="middle" textLength="6.9" lengthAdjust="spacingAndGlyphs" fill="#222" stroke="#222" stroke-width="0.1">18</text>
<text x="395.36" y="406.70" font-size="6.2" text-anchor="middle" textLength="6.9" lengthAdjust="spacingAndGlyphs" fill="#222" stroke="#222" stroke-width="0.1">14</text>
<text x="408.82" y="406.70" font-size="6.2" text-anchor="middle" textLength="6.9" lengthAdjust="spacingAndGlyphs" fill="#222" stroke="#222" stroke-width="0.1">11</text>
<text x="422.28" y="406.70" font-size="6.2" text-anchor="middle" textLength="3.45" lengthAdjust="spacingAndGlyphs" fill="#222" stroke="#222" stroke-width="0.1">8</text>
<text x="435.74" y="406.70" font-size="6.2" text-anchor="middle" textLength="3.45" lengthAdjust="spacingAndGlyphs" fill="#222" stroke="#222" stroke-width="0.1">4</text>
<text x="462.66" y="406.70" font-size="6.2" text-anchor="middle" textLength="3.45" lengthAdjust="spacingAndGlyphs" fill="#222" stroke="#222" stroke-width="0.1">0</text>
<text x="314.60" y="413.70" font-size="6.2" text-anchor="middle" textLength="10.350000000000001" lengthAdjust="spacingAndGlyphs" fill="#222" stroke="#222" stroke-width="0.1">176</text>
<text x="328.06" y="413.70" font-size="6.2" text-anchor="middle" textLength="10.350000000000001" lengthAdjust="spacingAndGlyphs" fill="#222" stroke="#222" stroke-width="0.1">156</text>
<text x="341.52" y="413.70" font-size="6.2" text-anchor="middle" textLength="10.350000000000001" lengthAdjust="spacingAndGlyphs" fill="#222" stroke="#222" stroke-width="0.1">138</text>
<text x="354.98" y="413.70" font-size="6.2" text-anchor="middle" textLength="10.350000000000001" lengthAdjust="spacingAndGlyphs" fill="#222" stroke="#222" stroke-width="0.1">119</text>
<text x="368.44" y="413.70" font-size="6.2" text-anchor="middle" textLength="6.9" lengthAdjust="spacingAndGlyphs" fill="#222" stroke="#222" stroke-width="0.1">94</text>
<text x="381.90" y="413.70" font-size="6.2" text-anchor="middle" textLength="6.9" lengthAdjust="spacingAndGlyphs" fill="#222" stroke="#222" stroke-width="0.1">74</text>
<text x="395.36" y="413.70" font-size="6.2" text-anchor="middle" textLength="6.9" lengthAdjust="spacingAndGlyphs" fill="#222" stroke="#222" stroke-width="0.1">58</text>
<text x="408.82" y="413.70" font-size="6.2" text-anchor="middle" textLength="6.9" lengthAdjust="spacingAndGlyphs" fill="#222" stroke="#222" stroke-width="0.1">42</text>
<text x="422.28" y="413.70" font-size="6.2" text-anchor="middle" textLength="6.9" lengthAdjust="spacingAndGlyphs" fill="#222" stroke="#222" stroke-width="0.1">24</text>
<text x="435.74" y="413.70" font-size="6.2" text-anchor="middle" textLength="6.9" lengthAdjust="spacingAndGlyphs" fill="#222" stroke="#222" stroke-width="0.1">19</text>
<text x="449.20" y="413.70" font-size="6.2" text-anchor="middle" textLength="6.9" lengthAdjust="spacingAndGlyphs" fill="#222" stroke="#222" stroke-width="0.1">13</text>
<text x="462.66" y="413.70" font-size="6.2" text-anchor="middle" textLength="3.45" lengthAdjust="spacingAndGlyphs" fill="#222" stroke="#222" stroke-width="0.1">5</text>
<text x="476.12" y="413.70" font-size="6.2" text-anchor="middle" textLength="3.45" lengthAdjust="spacingAndGlyphs" fill="#222" stroke="#222" stroke-width="0.1">0</text>
<path d="M64.4,28.3H76.7V31.3H86.6V34.4H95.4V37.3H96V43.7H104V46.9H117.6V50.4H122.4V56.6H124.4V59.8H130.9V63.6H143.5V67.7H166.2V73.7H190.1V84.5H229.3" stroke="#4d6aa5" stroke-width="0.95" fill="none" stroke-linejoin="miter"/>
<path d="M102.70,42.50V44.90M125.20,58.60V61.00M128.10,58.60V61.00M129.70,58.60V61.00M141.50,62.40V64.80M146.20,66.50V68.90M154.60,66.50V68.90M155.40,66.50V68.90M159.20,66.50V68.90M165.40,66.50V68.90M170.40,72.50V74.90M173.50,72.50V74.90M176.40,72.50V74.90M179.20,72.50V74.90M180.40,72.50V74.90M192.30,83.30V85.70M195.00,83.30V85.70M204.50,83.30V85.70M208.00,83.30V85.70M210.60,83.30V85.70M228.40,83.30V85.70" stroke="#4d6aa5" stroke-width="1.2" fill="none"/>
<path d="M64.60,28.40L66.30,29.90L67.50,31.30L68.00,33.10L68.80,36.00L69.80,37.70L70.90,39.10L72.70,39.90L74.10,40.60L75.90,42.00L77.60,43.10L78.70,44.10L80.10,45.50L81.90,47.00L83.30,48.40L84.70,49.80L85.80,51.60L87.20,53.00L88.70,54.40L89.80,55.50L91.90,56.80L93.30,58.50L94.80,60.70L96.50,62.40L98.70,63.90L100.80,64.90L103.30,66.00L104.70,67.40L106.10,68.80L108.30,70.00L110.40,70.80L112.50,71.30L114.30,72.60L115.70,74.50L116.80,76.30L117.90,77.70L119.70,79.10L121.80,80.50L124.00,82.30L125.70,83.70L127.50,85.90L129.30,86.20L131.40,86.90L133.20,87.60L135.30,88.50L137.10,89.40L138.50,90.80L140.30,91.20L142.10,92.00L143.20,93.70L145.00,94.90L146.80,96.00L148.90,96.30L151.00,97.00L153.10,97.50L155.30,97.50L157.10,98.10L158.80,98.70L161.00,99.40L163.10,99.90L166.00,100.00L168.10,100.80L169.60,102.20L171.30,103.20L173.10,104.10L175.20,104.30L178.40,104.30L180.20,105.20L181.30,105.70L185.50,105.60L186.60,106.40L187.30,107.10L190.50,107.30L191.90,108.20L192.30,108.70L194.60,108.70L195.50,109.50L196.10,110.70L203.90,110.70L204.30,113.30L228.60,113.30" stroke="#b3123f" stroke-width="1.2" fill="none" stroke-linejoin="miter"/>
<path d="M66.10,28.62V30.82M67.75,31.10V33.30M71.25,38.16V40.36M74.54,39.84V42.04M76.50,41.29V43.49M79.09,43.39V45.59M81.56,45.62V47.82M84.55,48.55V50.75M87.90,52.56V54.76M89.45,54.05V56.25M90.82,55.03V57.23M94.29,58.86V61.06M96.72,61.45V63.65M100.00,63.42V65.62M101.31,64.02V66.22M103.76,65.36V67.56M106.94,68.16V70.36M108.84,69.10V71.30M112.59,70.27V72.47M116.24,74.28V76.48M117.62,76.24V78.44M118.98,77.44V79.64M121.69,79.33V81.53M125.43,82.38V84.58M127.72,84.84V87.04M129.59,85.20V87.40M131.98,86.03V88.23M133.36,86.57V88.77M135.24,87.37V89.57M137.67,88.87V91.07M140.26,90.09V92.29M142.17,91.01V93.21M144.07,93.18V95.38M145.94,94.37V96.57M148.43,95.13V97.33M150.49,95.73V97.93M151.84,96.10V98.30M155.32,96.41V98.61M158.07,97.34V99.54M161.04,98.31V100.51M162.82,98.73V100.93M166.70,99.17V101.37M170.24,101.47V103.67M171.85,102.38V104.58M174.02,103.09V105.29M177.19,103.20V105.40M180.34,104.16V106.36M184.08,104.53V106.73M186.47,105.21V107.41M189.93,106.16V108.36M192.97,107.60V109.80M195.06,108.01V110.21M197.89,109.60V111.80" stroke="#b3123f" stroke-width="0.9" fill="none"/>
<path d="M201.40,109.60V112.40M206.60,111.90V114.70M210.40,111.90V114.70M211.20,111.90V114.70M215.20,111.90V114.70M222.30,111.90V114.70M224.60,111.90V114.70M228.00,111.90V114.70" stroke="#b3123f" stroke-width="1.2" fill="none"/>
<path d="M315.3,27.6H327.5V32.5H346.6V38.2H347.3V43.9H347.8V48.4H369V53.6H373.5V59.2H382.2V65.4H395.2V72.5H417.9V83.3H460.9" stroke="#4d6aa5" stroke-width="0.95" fill="none" stroke-linejoin="miter"/>
<path d="M346.90,37.00V39.40M347.50,42.70V45.10M354.00,47.20V49.60M376.70,58.00V60.40M379.70,58.00V60.40M393.60,64.20V66.60M397.50,71.30V73.70M404.30,71.30V73.70M406.10,71.30V73.70M422.10,82.10V84.50M428.30,82.10V84.50M431.30,82.10V84.50M432.40,82.10V84.50M456.70,82.10V84.50M460.30,82.10V84.50" stroke="#4d6aa5" stroke-width="1.2" fill="none"/>
<path d="M315.30,27.60L317.20,29.70L318.60,31.60L319.60,36.30L320.50,38.70L321.50,41.50L322.90,43.40L325.30,45.30L327.20,46.70L329.10,47.70L330.50,50.50L331.90,52.00L334.30,52.40L336.20,54.30L337.10,56.20L339.00,59.10L340.00,60.40L342.40,61.30L344.10,63.70L345.90,66.70L348.90,67.80L352.40,68.40L354.80,69.60L356.60,72.00L359.50,73.80L363.70,74.40L366.10,75.50L367.80,77.90L369.60,80.30L372.00,82.10L374.40,84.40L376.70,86.50L380.50,87.20L382.40,88.00L384.70,89.40L388.30,90.30L390.70,92.30L394.20,93.20L396.00,94.70L397.80,97.10L400.70,97.90L404.90,98.60L409.00,98.60L412.00,99.10L414.40,100.00L417.90,100.30L420.30,100.60L421.20,102.80L423.00,104.00L424.10,106.00L425.90,106.80L441.90,106.80L441.90,109.40L447.50,109.40L447.50,112.80L480.90,112.80" stroke="#b3123f" stroke-width="1.05" fill="none" stroke-linejoin="miter"/>
<path d="M316.80,28.16V30.36M320.59,37.84V40.04M324.35,43.45V45.65M325.80,44.57V46.77M327.32,45.66V47.86M330.79,49.71V51.91M334.00,51.25V53.45M337.04,54.98V57.18M339.15,58.19V60.39M342.02,60.06V62.26M344.90,63.93V66.13M347.71,66.26V68.46M349.42,66.79V68.99M351.84,67.20V69.40M354.17,68.18V70.38M357.34,71.36V73.56M361.23,72.95V75.15M365.00,73.90V76.10M367.71,76.68V78.88M370.17,79.63V81.83M372.17,81.16V83.36M373.56,82.50V84.70M374.93,83.79V85.99M377.44,85.54V87.74M379.57,85.93V88.13M381.86,86.67V88.87M385.48,88.49V90.69M388.14,89.16V91.36M390.90,91.25V93.45M392.82,91.74V93.94M394.18,92.09V94.29M396.32,94.03V96.23M397.98,96.05V98.25M400.60,96.77V98.97M404.50,97.43V99.63M407.55,97.50V99.70M409.33,97.55V99.75M412.95,98.36V100.56M416.32,99.06V101.26M419.53,99.40V101.60M423.19,103.24V105.44M426.47,105.70V107.90M429.83,105.70V107.90M432.05,105.70V107.90M435.90,105.70V107.90M439.70,105.70V107.90" stroke="#b3123f" stroke-width="0.9" fill="none"/>
<path d="M388.30,88.90V91.70M404.90,97.20V100.00M407.80,97.20V100.00M409.00,97.20V100.00M433.60,105.40V108.20M447.00,108.00V110.80M453.50,111.40V114.20M456.50,111.40V114.20M459.20,111.40V114.20M462.60,111.40V114.20M464.80,111.40V114.20M467.70,111.40V114.20M476.10,111.40V114.20M480.40,111.40V114.20" stroke="#b3123f" stroke-width="1.2" fill="none"/>
<path d="M65,242.5H82.4V245.3H88.3V248.2H110.3V251.3H139V254.5H154.2V258.9H164.5V264.5H190.9V274.3H194.6V284.5H204.5V297.3H228.2" stroke="#4d6aa5" stroke-width="0.95" fill="none" stroke-linejoin="miter"/>
<path d="M103.50,247.00V249.40M118.10,250.10V252.50M124.00,250.10V252.50M125.20,250.10V252.50M128.70,250.10V252.50M142.40,253.30V255.70M145.30,253.30V255.70M146.50,253.30V255.70M153.60,253.30V255.70M155.90,257.70V260.10M159.50,257.70V260.10M166.00,263.30V265.70M170.70,263.30V265.70M173.70,263.30V265.70M179.60,263.30V265.70M181.40,263.30V265.70M183.80,263.30V265.70M192.10,273.10V275.50M195.00,283.30V285.70M208.40,296.10V298.50M210.70,296.10V298.50M214.90,296.10V298.50M227.70,296.10V298.50" stroke="#4d6aa5" stroke-width="1.2" fill="none"/>
<path d="M65.00,242.50L67.90,242.70L70.30,243.70L72.10,245.70L73.80,248.10L76.20,249.80L79.80,251.30L83.30,252.80L86.90,254.60L89.80,257.00L92.80,259.30L95.20,261.70L97.50,262.90L99.90,263.80L102.90,264.70L105.20,265.80L107.60,267.60L110.40,268.40L113.30,269.00L115.10,270.60L118.10,272.20L121.00,273.80L123.40,275.00L125.80,276.70L128.10,278.20L131.10,278.90L133.50,280.00L136.40,280.90L140.00,282.10L142.40,282.70L143.50,284.40L145.90,285.60L148.90,286.00L151.80,286.00L153.60,287.40L156.60,288.00L158.90,288.50L161.80,289.70L164.20,291.20L167.20,291.70L169.50,292.40L171.90,293.80L174.30,295.60L177.30,296.40L180.80,296.80L183.80,298.00L197.70,298.10L200.10,299.90L203.00,300.80L204.80,302.80L206.60,303.40L207.60,303.60L207.80,306.00L228.50,306.00" stroke="#b3123f" stroke-width="1.15" fill="none" stroke-linejoin="miter"/>
<path d="M66.50,241.50V243.70M68.42,241.82V244.02M71.13,243.53V245.73M73.40,246.43V248.63M76.27,248.73V250.93M79.19,249.95V252.15M80.66,250.57V252.77M82.00,251.14V253.34M85.47,252.79V254.99M87.45,253.95V256.15M89.36,255.53V257.73M93.25,258.65V260.85M95.77,260.90V263.10M99.24,262.45V264.65M101.78,263.26V265.46M104.74,264.48V266.68M106.44,265.63V267.83M109.39,267.01V269.21M112.94,267.83V270.03M115.60,269.77V271.97M118.83,271.50V273.70M121.88,273.14V275.34M123.34,273.87V276.07M126.61,276.13V278.33M129.45,277.42V279.62M131.53,278.00V280.20M132.92,278.63V280.83M136.47,279.82V282.02M139.00,280.67V282.87M142.16,281.54V283.74M145.75,284.42V286.62M148.91,284.90V287.10M152.60,285.52V287.72M154.93,286.57V288.77M158.31,287.27V289.47M160.77,288.17V290.37M164.50,290.15V292.35M168.08,290.87V293.07M169.64,291.38V293.58M171.29,292.34V294.54M173.15,293.64V295.84M176.96,295.21V297.41M179.40,295.54V297.74M182.33,296.31V298.51M184.41,296.90V299.10M187.03,296.92V299.12M189.33,296.94V299.14M191.55,296.96V299.16M194.37,296.98V299.18M197.19,297.00V299.20" stroke="#b3123f" stroke-width="0.9" fill="none"/>
<path d="M187.00,296.60V299.40M190.30,296.60V299.40M193.80,296.60V299.40M194.50,296.60V299.40M197.00,296.60V299.40M211.90,304.60V307.40M214.30,304.60V307.40M220.20,304.60V307.40M222.60,304.60V307.40M224.40,304.60V307.40M226.70,304.60V307.40M227.90,304.60V307.40" stroke="#b3123f" stroke-width="1.2" fill="none"/>
<path d="M315.3,243.1H359.5V248.4H387.2V254.4H412.8V264.1H451.7V288.3H463.2" stroke="#4d6aa5" stroke-width="0.95" fill="none" stroke-linejoin="miter"/>
<path d="M351.50,241.90V244.30M366.60,247.20V249.60M373.40,247.20V249.60M374.20,247.20V249.60M376.90,247.20V249.60M390.50,253.20V255.60M393.50,253.20V255.60M394.70,253.20V255.60M401.80,253.20V255.60M403.00,253.20V255.60M414.50,262.90V265.30M418.70,262.90V265.30M427.00,262.90V265.30M428.80,262.90V265.30M430.50,262.90V265.30M452.40,287.10V289.50M455.80,287.10V289.50M462.40,287.10V289.50" stroke="#4d6aa5" stroke-width="1.2" fill="none"/>
<path d="M315.30,243.10L317.70,243.30L320.10,243.90L321.80,247.50L323.60,251.60L326.00,254.00L329.00,255.20L331.90,256.70L334.90,258.10L338.40,259.90L340.20,261.70L342.00,265.30L344.40,267.00L347.90,268.20L350.90,269.00L353.80,270.60L356.20,273.00L359.70,273.80L362.10,275.00L364.50,275.70L366.80,277.10L369.80,278.30L372.80,279.50L375.10,280.70L378.10,281.80L381.10,282.80L384.60,283.60L387.60,284.40L390.50,285.40L392.90,286.80L395.30,288.20L398.60,289.40L402.10,290.40L405.70,290.60L408.00,290.90L410.30,291.80L411.30,292.00L411.50,295.20L416.80,295.40L418.00,297.20L420.40,298.40L422.20,299.90L423.40,301.90L438.20,301.90L438.20,305.10L441.70,305.80L443.00,308.60L454.90,308.60L454.90,313.90L475.70,313.90" stroke="#b3123f" stroke-width="1.05" fill="none" stroke-linejoin="miter"/>
<path d="M316.80,242.12V244.32M318.71,242.45V244.65M320.28,243.19V245.39M322.61,248.25V250.45M324.31,251.21V253.41M325.79,252.69V254.89M328.13,253.75V255.95M331.82,255.56V257.76M335.20,257.15V259.35M338.49,258.89V261.09M340.37,260.93V263.13M343.06,264.95V267.15M345.08,266.13V268.33M346.83,266.73V268.93M348.41,267.23V269.43M350.26,267.73V269.93M353.97,269.67V271.87M357.43,272.18V274.38M360.83,273.26V275.46M364.21,274.51V276.71M366.01,275.52V277.72M368.12,276.53V278.73M371.05,277.70V279.90M374.25,279.16V281.36M377.77,280.58V282.78M381.36,281.76V283.96M382.89,282.11V284.31M385.76,282.81V285.01M388.81,283.72V285.92M391.42,284.84V287.04M393.18,285.87V288.07M395.72,287.25V289.45M397.25,287.81V290.01M400.98,288.98V291.18M404.53,289.43V291.63M407.25,289.70V291.90M409.33,290.32V292.52M413.00,294.16V296.36M415.78,294.26V296.46M419.38,296.79V298.99M422.88,299.94V302.14M425.51,300.80V303.00M427.88,300.80V303.00M430.74,300.80V303.00M433.16,300.80V303.00M434.88,300.80V303.00M436.97,300.80V303.00" stroke="#b3123f" stroke-width="0.9" fill="none"/>
<path d="M425.10,300.50V303.30M429.90,300.50V303.30M435.20,300.50V303.30M436.40,300.50V303.30M444.60,307.20V310.00M449.10,307.20V310.00M452.40,307.20V310.00M455.80,312.50V315.30M458.20,312.50V315.30M460.70,312.50V315.30M463.20,312.50V315.30M470.70,312.50V315.30M473.20,312.50V315.30M474.80,312.50V315.30" stroke="#b3123f" stroke-width="1.2" fill="none"/>
<rect x="0.5" y="0.5" width="518.6" height="420.6" fill="none" stroke="#000" stroke-width="1"/>
<line x1="519.5" y1="0" x2="519.5" y2="422" stroke="#000" stroke-width="1"/>
<line x1="0" y1="421.5" x2="520" y2="421.5" stroke="#000" stroke-width="1"/>
</svg></div></body></html>
